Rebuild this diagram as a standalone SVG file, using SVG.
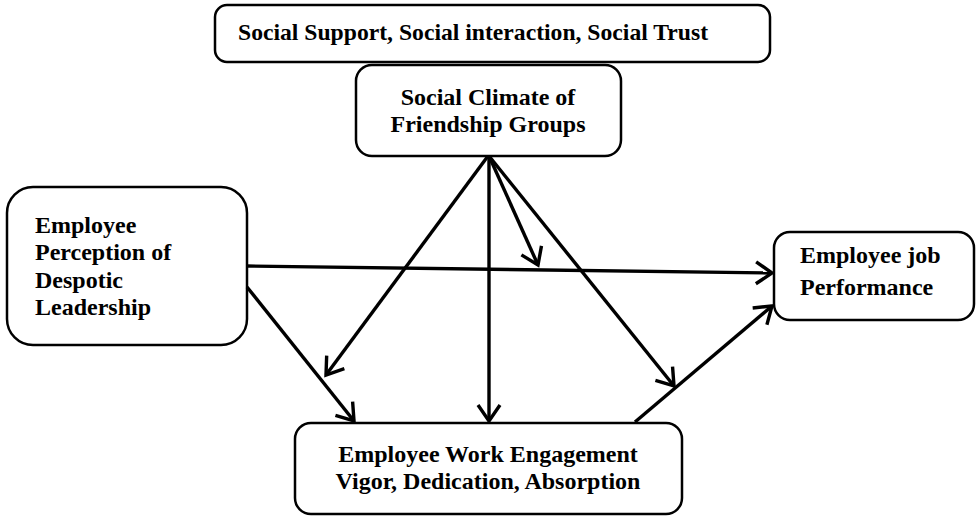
<svg xmlns="http://www.w3.org/2000/svg" width="976" height="519" viewBox="0 0 976 519">
<style>
.box{fill:#fff;stroke:#000;stroke-width:2.5}
.t{font-family:"Liberation Serif","Times New Roman",serif;font-weight:bold;font-size:24px;fill:#000}
.c{text-anchor:middle}
.ln{stroke:#000;stroke-width:3.4;fill:none;marker-end:url(#ah)}
</style>
<defs>
<marker id="ah" markerUnits="userSpaceOnUse" viewBox="-20 -14 24 28" refX="0" refY="0" markerWidth="24" markerHeight="28" orient="auto" overflow="visible">
<path d="M-16,-11 L0,0 L-16,11" fill="none" stroke="#000" stroke-width="3.4" stroke-linejoin="miter"/>
</marker>
</defs>
<rect width="976" height="519" fill="#fff"/>
<g id="node-social-dimensions">
<rect class="box" x="215" y="5" width="555" height="57" rx="12"/>
<text class="t" x="238" y="40" textLength="470" lengthAdjust="spacingAndGlyphs">Social Support, Social interaction, Social Trust</text>
</g>
<g id="node-social-climate">
<rect class="box" x="356" y="65" width="265" height="91" rx="16"/>
<text class="t c" x="488" y="105">Social Climate of</text>
<text class="t c" x="488" y="132">Friendship Groups</text>
</g>
<g id="node-despotic">
<rect class="box" x="7" y="187" width="240" height="158" rx="26"/>
<text class="t" x="35" y="233">Employee</text>
<text class="t" x="35" y="260">Perception of</text>
<text class="t" x="35" y="288">Despotic</text>
<text class="t" x="35" y="315">Leadership</text>
</g>
<g id="node-performance">
<rect class="box" x="774" y="232" width="200" height="88" rx="16"/>
<text class="t" x="800" y="263">Employee job</text>
<text class="t" x="800" y="295">Performance</text>
</g>
<g id="node-engagement">
<rect class="box" x="295" y="423" width="387" height="91" rx="16"/>
<text class="t c" x="488" y="462">Employee Work Engagement</text>
<text class="t c" x="488" y="489">Vigor, Dedication, Absorption</text>
</g>
<g id="connectors">
<line class="ln" x1="488" y1="156" x2="326" y2="375"/>
<line class="ln" x1="489" y1="156" x2="489" y2="421"/>
<line class="ln" x1="489" y1="156" x2="538" y2="265"/>
<line class="ln" x1="489" y1="156" x2="674" y2="386"/>
<line class="ln" x1="247" y1="266" x2="772" y2="273"/>
<line class="ln" x1="247" y1="287" x2="354" y2="421"/>
<line class="ln" x1="635" y1="422" x2="772" y2="306"/>
</g>
</svg>
